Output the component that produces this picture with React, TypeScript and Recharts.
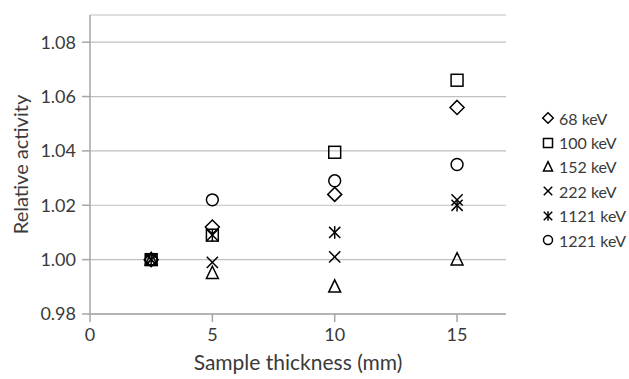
import React from "react";
import { ScatterChart, Scatter, XAxis, YAxis, CartesianGrid, Label } from "recharts";

const thickness = [2.5, 5, 10, 15];
const kev68 = [1.0, 1.012, 1.024, 1.056];
const kev100 = [1.0, 1.009, 1.0395, 1.066];
const kev152 = [1.0, 0.995, 0.99, 1.0];
const kev222 = [1.0, 0.999, 1.001, 1.022];
const kev1121 = [1.0, 1.009, 1.01, 1.02];
const kev1221 = [1.0, 1.022, 1.029, 1.035];

const xTicks = [0, 5, 10, 15];
const yTicks = [0.98, 1.0, 1.02, 1.04, 1.06, 1.08];

const FONT = "Lato, 'Open Sans', sans-serif";
const TEXT = "#3a3a3a";
const AXIS = "#a6a6a6";

type Kind = "diamond" | "square" | "triangle" | "cross" | "asterisk" | "circle";

function Marker({ kind, cx, cy, r }: { kind: Kind; cx: number; cy: number; r: number }) {
    const p = { fill: "none", stroke: "#000", strokeWidth: 1.5 };
    switch (kind) {
        case "diamond":
            return <polygon {...p} points={`${cx},${cy - r} ${cx + r},${cy} ${cx},${cy + r} ${cx - r},${cy}`} />;
        case "square":
            return <rect {...p} x={cx - r * 0.85} y={cy - r * 0.85} width={r * 1.7} height={r * 1.7} />;
        case "triangle":
            return <polygon {...p} points={`${cx},${cy - r} ${cx + r * 0.85},${cy + r * 0.75} ${cx - r * 0.85},${cy + r * 0.75}`} />;
        case "cross":
            return (
                <g {...p}>
                    <line x1={cx - r * 0.8} y1={cy - r * 0.8} x2={cx + r * 0.8} y2={cy + r * 0.8} />
                    <line x1={cx - r * 0.8} y1={cy + r * 0.8} x2={cx + r * 0.8} y2={cy - r * 0.8} />
                </g>
            );
        case "asterisk":
            return (
                <g {...p}>
                    <line x1={cx - r * 0.8} y1={cy - r * 0.8} x2={cx + r * 0.8} y2={cy + r * 0.8} />
                    <line x1={cx - r * 0.8} y1={cy + r * 0.8} x2={cx + r * 0.8} y2={cy - r * 0.8} />
                    <line x1={cx} y1={cy - r * 0.9} x2={cx} y2={cy + r * 0.9} />
                </g>
            );
        default:
            return <circle {...p} cx={cx} cy={cy} r={r * 0.85} />;
    }
}

const series: { name: string; values: number[]; kind: Kind }[] = [
    { name: "68 keV", values: kev68, kind: "diamond" },
    { name: "100 keV", values: kev100, kind: "square" },
    { name: "152 keV", values: kev152, kind: "triangle" },
    { name: "222 keV", values: kev222, kind: "cross" },
    { name: "1121 keV", values: kev1121, kind: "asterisk" },
    { name: "1221 keV", values: kev1221, kind: "circle" },
];

function LegendBox() {
    return (
        <div style={{ position: "absolute", left: 541, top: 106, fontFamily: FONT, fontSize: 16, color: TEXT }}>
            {series.map((s) => (
                <div key={s.name} style={{ display: "flex", alignItems: "center", height: 24.4 }}>
                    <svg width={14} height={14} style={{ marginRight: 4 }}>
                        <Marker kind={s.kind} cx={7} cy={7} r={5.3} />
                    </svg>
                    <span>{s.name}</span>
                </div>
            ))}
        </div>
    );
}

export default function App() {
    return (
        <div style={{ position: "absolute", left: 0, top: 0, width: 629, height: 379, background: "#fff" }}>
            <ScatterChart width={629} height={379} margin={{ top: 15, right: 123, left: 30, bottom: 25 }}>
                <CartesianGrid horizontal vertical={false} stroke="#bfbfbf" strokeWidth={1.2} />
                <XAxis
                    type="number"
                    dataKey="x"
                    domain={[0, 17]}
                    ticks={xTicks}
                    allowDataOverflow
                    stroke={AXIS}
                    strokeWidth={1.5}
                    tickSize={8}
                    tickMargin={6}
                    height={40}
                    tick={{ fill: TEXT, fontFamily: FONT, fontSize: 18 }}
                >
                    <Label value="Sample thickness (mm)" position="bottom" offset={1} fill={TEXT} style={{ fontFamily: FONT, fontSize: 21 }} />
                </XAxis>
                <YAxis
                    type="number"
                    dataKey="y"
                    domain={[0.98, 1.09]}
                    ticks={yTicks}
                    allowDataOverflow
                    tickFormatter={(v: number) => v.toFixed(2)}
                    stroke={AXIS}
                    strokeWidth={1.5}
                    tickSize={8}
                    tickMargin={6}
                    width={60}
                    tick={{ fill: TEXT, fontFamily: FONT, fontSize: 18 }}
                >
                    <Label value="Relative activity" angle={-90} position="insideLeft" offset={-9} fill={TEXT} style={{ fontFamily: FONT, fontSize: 20, textAnchor: "middle" }} />
                </YAxis>
                {series.map((s) => (
                    <Scatter
                        key={s.name}
                        name={s.name}
                        data={thickness.map((x, i) => ({ x, y: s.values[i] }))}
                        isAnimationActive={false}
                        shape={(props: any) => <Marker kind={s.kind} cx={props.cx} cy={props.cy} r={7} />}
                    />
                ))}
            </ScatterChart>
            <LegendBox />
        </div>
    );
}
